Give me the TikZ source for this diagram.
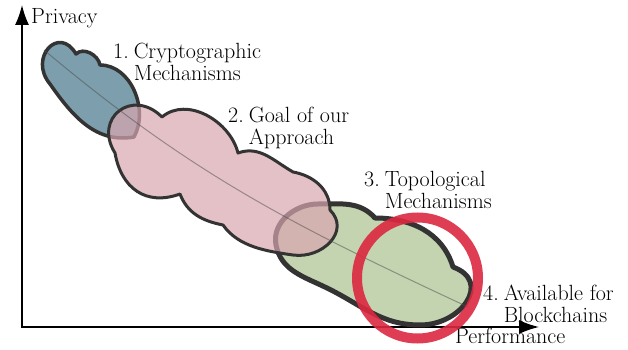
\documentclass[tikz,border=0pt]{standalone}
\usepackage{xcolor}
\usepackage{tikz}
\usetikzlibrary{arrows.meta}
\definecolor{cloudblue}{HTML}{7D9EAC}
\definecolor{cloudpink}{HTML}{D8A6AF}
\definecolor{cloudgreen}{HTML}{C4D4B0}
\definecolor{ringred}{HTML}{DC2840}
\definecolor{darkline}{HTML}{333333}

\begin{document}
\begin{tikzpicture}[x=1pt, y=1pt,
    blob/.style={draw=darkline, line join=round},
    axis/.style={line width=1.6pt, {Latex[length=20pt,width=14pt]}-{Latex[length=20pt,width=14pt]}},
    lbl/.style={anchor=base west, inner sep=0pt, font=\fontsize{22}{21}\selectfont}]
  \useasboundingbox (0,0) rectangle (628,350);

  % axes
  \coordinate (ymax) at (22,345);
  \coordinate (xmax) at (539,23);
  \draw[axis] (ymax) |- (xmax);
  \node[lbl] (privacy) at (31,326) {Privacy};
  \node[lbl] (performance) at (455,6) {Performance};

  % clouds
  \draw[blob, fill=cloudblue, line width=3.5pt]
    (50,266) to[out=130, in=120, looseness=2.2] (76,296)
    to[out=45, in=100] (100,285)
    to[out=0, in=61] (134,213)
    to[out=190, in=-55] cycle;
  \draw[blob, fill=cloudgreen, line width=5pt]
    (375,132) to[out=0, in=107] (453,83)
    to[out=-20, in=0, looseness=1.6] (420,25)
    to[out=180, in=-26] (327,62)
    to[out=154, in=-79] (276,105)
    to[out=101, in=180] (318,146)
    to[out=0, in=132] cycle;
  \draw[blob, fill=cloudpink, fill opacity=0.7, line width=3pt]
    (115,197) to[out=122, in=135, looseness=1.8] (162,233)
    to[out=40, in=104] (238,197)
    to[out=20, in=150] (293,178)
    to[out=-10, in=90] (330,140)
    to[out=-45, in=-8, looseness=1.3] (293,95)
    to[out=172, in=-55, looseness=0.9] (223,125)
    to[out=169, in=-69] (180,156)
    to[out=200, in=-80, looseness=1.2] cycle;

  % trend line
  \coordinate (high) at (44,300);
  \coordinate (low) at (468,43);
  \draw[black!70, opacity=0.5, line width=1pt] (high) to[out=-40, in=155] (low);

  % target
  \draw[ringred, opacity=0.9, line width=10pt] (417.5,72) circle (60.5);

  % labels
  \node[lbl] (crypto) at (113,291) {\begin{tabular}[t]{@{}l@{\hspace{5pt}}l@{}}1. & Cryptographic\\ & Mechanisms\end{tabular}};
  \node[lbl] (goal) at (228,227) {\begin{tabular}[t]{@{}l@{\hspace{5pt}}l@{}}2. & Goal of our\\ & Approach\end{tabular}};
  \node[lbl] (topo) at (364,163) {\begin{tabular}[t]{@{}l@{\hspace{5pt}}l@{}}3. & Topological\\ & Mechanisms\end{tabular}};
  \node[lbl] (avail) at (483,49) {\begin{tabular}[t]{@{}l@{\hspace{5pt}}l@{}}4. & Available for\\ & Blockchains\end{tabular}};
\end{tikzpicture}
\end{document}
